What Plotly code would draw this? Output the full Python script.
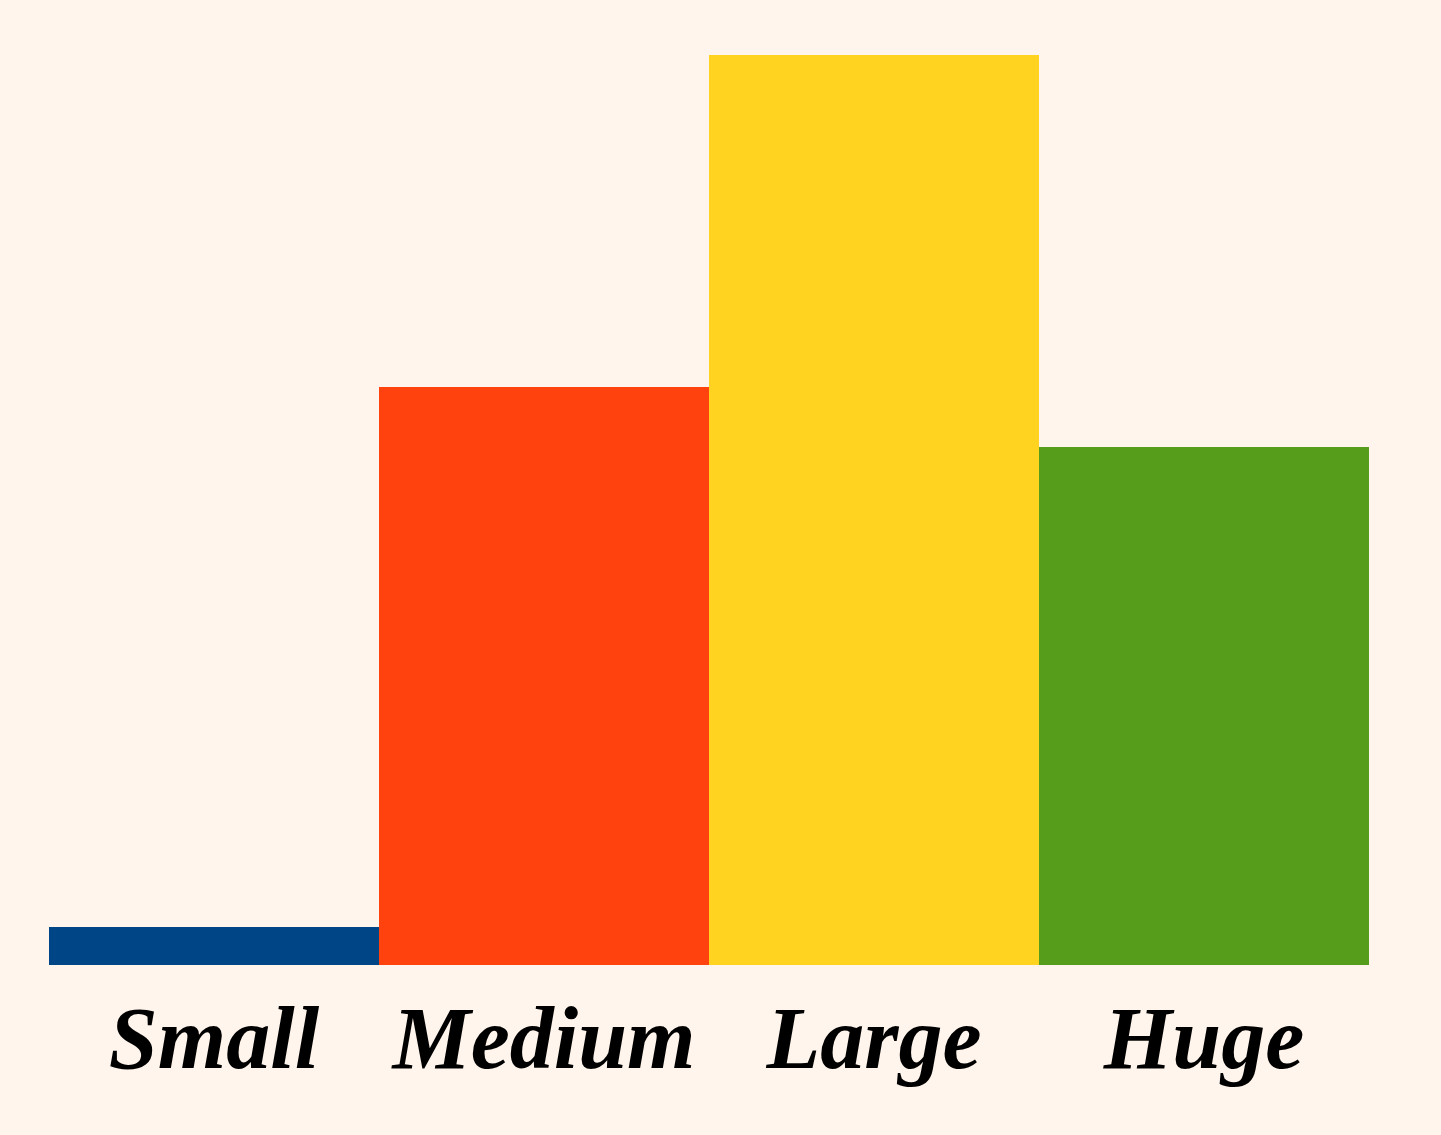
import plotly.graph_objects as go

sizes = ["Small", "Medium", "Large", "Huge"]
values = [1.0, 15.25, 24.0, 13.65]
colors = ["#004586", "#ff420e", "#ffd320", "#579d1c"]

fig = go.Figure()
fig.add_trace(go.Bar(x=sizes, y=values, marker=dict(color=colors, line=dict(width=0))))

fig.update_layout(
    width=1441, height=1135,
    margin=dict(l=49, r=72, t=55, b=170),
    paper_bgcolor="#fff5ec", plot_bgcolor="#fff5ec",
    bargap=0, showlegend=False,
    font=dict(family="Liberation Serif", color="black"),
)
fig.update_xaxes(showgrid=False, zeroline=False, showline=False, ticks="",
                 tickfont=dict(size=88, style="italic", weight="bold"), ticklabelstandoff=14)
fig.update_yaxes(range=[0, 24.0], showgrid=False, zeroline=False, showline=False,
                 showticklabels=False, ticks="")
# page has no border round the chart in the reference
fig.write_html("out.html", config={"displayModeBar": False},
               post_script="document.body.style.margin='0';document.body.style.background='#fff5ec';")
